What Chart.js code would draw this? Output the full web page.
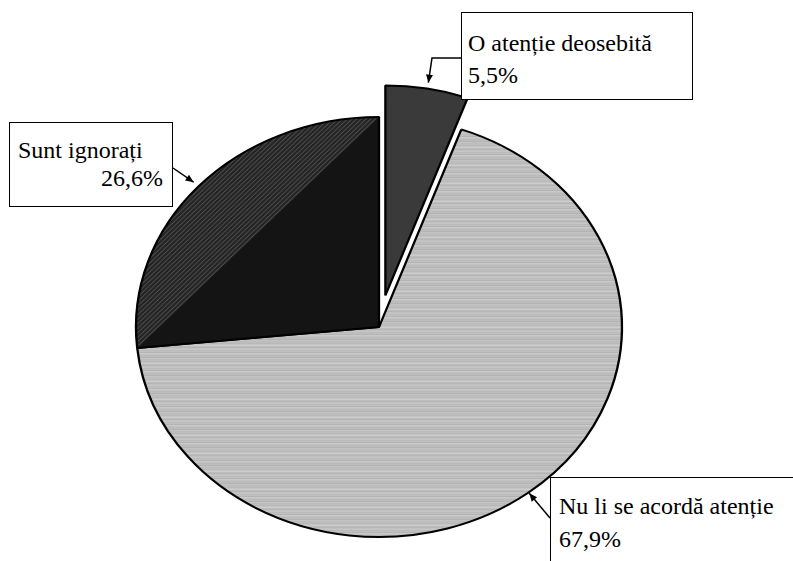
<!DOCTYPE html>
<html>
<head>
<meta charset="utf-8">
<script src="https://cdn.jsdelivr.net/npm/chart.js"></script>
<style>
html, body { margin: 0; padding: 0; background: #fff; overflow: hidden; }
#wrap { position: relative; width: 793px; height: 561px; }
#pie { position: absolute; left: 0; top: 0; }
.box {
    position: absolute; box-sizing: border-box; background: #fff;
    border: 1px solid #000; color: #000; white-space: nowrap;
    font-family: "Liberation Serif", Tinos, "Times New Roman", "DejaVu Serif", "Noto Serif", serif;
    font-size: 24px;
}
</style>
</head>
<body>
<div id="wrap"><canvas id="pie" width="793" height="561"></canvas></div>
<script>
// date
const categories = ["O atenție deosebită", "Nu li se acordă atenție", "Sunt ignorați"];
const values = [5.5, 67.9, 26.6];
const valueLabels = values.map(v => v.toFixed(1).replace(".", ",") + "%");

// aspect / explodare (stil)
const stretchX = 243 / 210;
const explode = [32, 0, 0];

// casetele de etichete (stil): pozitie, spatiere, capatul sagetii
const callouts = [
    { left: 461, top: 12, width: 232, height: 88, lh: 32, padTop: 14, padLeft: 6, padRight: 0, align2: "left",
      from: [461, 58], elbow: [432, 58], gap: 6 },
    { left: 550, top: 477, width: 262, height: 100, lh: 33, padTop: 12, padLeft: 8, padRight: 0, align2: "left",
      from: [550, 518], elbow: null, gap: 1 },
    { left: 9, top: 122, width: 164, height: 85, lh: 28, padTop: 13, padLeft: 8, padRight: 9, align2: "right",
      from: [173, 168], elbow: null, gap: 6 }
];

// texturi
const lightShades = [190, 184, 196, 204, 188, 182, 194, 199, 186, 192, 180, 201, 194, 186, 190, 179, 197, 188];

function stripePattern(shades) {
    const cv = document.createElement("canvas");
    cv.width = 4; cv.height = shades.length;
    const g = cv.getContext("2d");
    shades.forEach((s, i) => {
        g.fillStyle = "rgb(" + s + "," + s + "," + s + ")";
        g.fillRect(0, i, 4, 1);
    });
    return g.createPattern(cv, "repeat");
}

let hatchCache = null;
function hatchFill(c) {
    const chart = c.chart, a = chart.chartArea;
    const r = chart.getDatasetMeta(0).controller.outerRadius;
    if (!a || !r) return "#141414";
    const cx = (a.left + a.right) / 2, cy = (a.top + a.bottom) / 2;
    const key = cx + "," + cy + "," + r;
    if (hatchCache && hatchCache.key === key) return hatchCache.pat;

    const total = values.reduce((s, v) => s + v, 0);
    const before = values.slice(0, c.dataIndex).reduce((s, v) => s + v, 0);
    const a0 = -Math.PI / 2 + 2 * Math.PI * before / total;
    const a1 = a0 + 2 * Math.PI * values[c.dataIndex] / total;
    const p0 = [cx + r * Math.cos(a0), cy + r * Math.sin(a0)];
    const p1 = [cx + r * Math.cos(a1), cy + r * Math.sin(a1)];
    const mid = (a0 + a1) / 2;
    const nx = Math.cos(mid), ny = Math.sin(mid);
    let dx = p1[0] - p0[0], dy = p1[1] - p0[1];
    const len = Math.hypot(dx, dy); dx /= len; dy /= len;

    const cv = document.createElement("canvas");
    cv.width = chart.width; cv.height = chart.height;
    const g = cv.getContext("2d");
    g.fillStyle = "#141414";
    g.fillRect(0, 0, cv.width, cv.height);
    g.save();
    g.beginPath();
    const far = 400;
    g.moveTo(p0[0] - dx * far, p0[1] - dy * far);
    g.lineTo(p1[0] + dx * far, p1[1] + dy * far);
    g.lineTo(p1[0] + dx * far + nx * far, p1[1] + dy * far + ny * far);
    g.lineTo(p0[0] - dx * far + nx * far, p0[1] - dy * far + ny * far);
    g.closePath();
    g.clip();
    g.fillStyle = "#242424";
    g.fillRect(0, 0, cv.width, cv.height);
    g.strokeStyle = "#585858";
    g.lineWidth = 1;
    for (let k = 1; k < 120; k += 3) {
        g.beginPath();
        g.moveTo(p0[0] - dx * far + nx * k, p0[1] - dy * far + ny * k);
        g.lineTo(p1[0] + dx * far + nx * k, p1[1] + dy * far + ny * k);
        g.stroke();
    }
    g.restore();
    hatchCache = { key: key, pat: g.createPattern(cv, "no-repeat") };
    return hatchCache.pat;
}

const lightFill = stripePattern(lightShades);
const fills = ["#3a3a3a", lightFill, hatchFill];

// plugin: plăcinta eliptică + felia scoasă
const ellipsePie = {
    id: "ellipsePie",
    beforeDatasetDraw(chart, args) {
        const ctx = chart.ctx;
        args.meta.data.forEach((arc, i) => {
            const d = explode[i] || 0;
            const mid = (arc.startAngle + arc.endAngle) / 2;
            ctx.save();
            ctx.translate(arc.x, arc.y);
            ctx.scale(stretchX, 1);
            ctx.translate(-arc.x, -arc.y);
            ctx.translate(d * Math.cos(mid), d * Math.sin(mid));
            arc.draw(ctx);
            ctx.restore();
        });
        return false;
    },
    afterDraw(chart) {
        const ctx = chart.ctx;
        chart.getDatasetMeta(0).data.forEach((arc, i) => {
            const co = callouts[i];
            const mid = (arc.startAngle + arc.endAngle) / 2;
            const rr = arc.outerRadius + (explode[i] || 0) + co.gap;
            const tx = arc.x + stretchX * rr * Math.cos(mid);
            const ty = arc.y + rr * Math.sin(mid);
            const pts = [co.from];
            if (co.elbow) pts.push(co.elbow);
            pts.push([tx, ty]);
            ctx.save();
            ctx.strokeStyle = "#000";
            ctx.fillStyle = "#000";
            ctx.lineWidth = 1.5;
            ctx.beginPath();
            ctx.moveTo(pts[0][0], pts[0][1]);
            for (let k = 1; k < pts.length; k++) ctx.lineTo(pts[k][0], pts[k][1]);
            ctx.stroke();
            const prev = pts[pts.length - 2];
            const ang = Math.atan2(ty - prev[1], tx - prev[0]);
            ctx.translate(tx, ty);
            ctx.rotate(ang);
            ctx.beginPath();
            ctx.moveTo(0, 0);
            ctx.lineTo(-8, -3.5);
            ctx.lineTo(-8, 3.5);
            ctx.closePath();
            ctx.fill();
            ctx.restore();
        });
    }
};

new Chart(document.getElementById("pie"), {
    type: "pie",
    data: {
        labels: categories,
        datasets: [{
            data: values,
            backgroundColor: (c) => {
                const f = fills[c.dataIndex];
                return typeof f === "function" ? f(c) : f;
            },
            borderColor: "#000",
            borderWidth: 2,
            hoverBorderWidth: 2,
            hoverOffset: 0,
            offset: 0,
            clip: false
        }]
    },
    options: {
        responsive: false,
        animation: false,
        events: [],
        layout: { padding: { left: 168, top: 116, right: 203, bottom: 23 } },
        plugins: {
            legend: { display: false },
            tooltip: { enabled: false }
        }
    },
    plugins: [ellipsePie]
});

// casetele cu text
const wrap = document.getElementById("wrap");
callouts.forEach((co, i) => {
    const box = document.createElement("div");
    box.className = "box";
    box.style.left = co.left + "px";
    box.style.top = co.top + "px";
    box.style.width = co.width + "px";
    box.style.height = co.height + "px";
    box.style.padding = co.padTop + "px " + co.padRight + "px 0 " + co.padLeft + "px";
    const l1 = document.createElement("div");
    l1.style.lineHeight = co.lh + "px";
    l1.textContent = categories[i];
    const l2 = document.createElement("div");
    l2.style.lineHeight = co.lh + "px";
    l2.style.textAlign = co.align2;
    l2.textContent = valueLabels[i];
    box.appendChild(l1);
    box.appendChild(l2);
    wrap.appendChild(box);
});
</script>
</body>
</html>
